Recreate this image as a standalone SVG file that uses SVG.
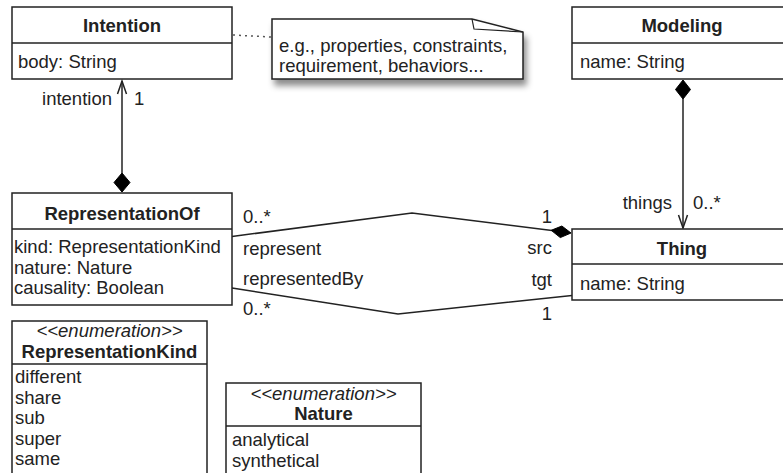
<svg xmlns="http://www.w3.org/2000/svg" width="783" height="473" viewBox="0 0 783 473">
<style>
text{font-family:"Liberation Sans",Arial,Helvetica,sans-serif;font-size:18.5px;fill:#222}
.t{font-weight:bold;text-anchor:middle}
.st{font-style:italic;text-anchor:middle}
.box{fill:#fff;stroke:#222;stroke-width:1.5}
.ln{fill:none;stroke:#222;stroke-width:1.5}
.dia{fill:#000;stroke:#000;stroke-width:1}
.e{text-anchor:end}
</style>
<defs>
<filter id="sh" x="-10%" y="-20%" width="130%" height="160%">
<feDropShadow dx="3" dy="6" stdDeviation="3" flood-color="#000" flood-opacity="0.45"/>
</filter>
</defs>
<g id="connectors">
<line class="ln" x1="233" y1="35" x2="271" y2="37" stroke-dasharray="2,4" style="stroke:#555"/>
<line class="ln" x1="122" y1="173" x2="122" y2="81"/>
<polyline class="ln" points="117.5,94 122,81 126.5,94"/>
<polygon class="dia" points="122,173 130,182.5 122,192 114,182.5"/>
<text x="112" y="105" class="e">intention</text>
<text x="134" y="105">1</text>
<line class="ln" x1="683" y1="99" x2="683" y2="228"/>
<polyline class="ln" points="678.5,215 683,228 687.5,215"/>
<polygon class="dia" points="683,80 690.5,89.5 683,99 675.5,89.5"/>
<text x="672" y="209" class="e">things</text>
<text x="693" y="209">0..*</text>
<polyline class="ln" points="232,236.5 412,213 552,230.5"/>
<polygon class="dia" points="571,233 561.9,226 551.2,230.3 560.3,237.6"/>
<polyline class="ln" points="232,288 398,314 572,295.5"/>
<text x="243" y="223">0..*</text>
<text x="243" y="255">represent</text>
<text x="243" y="285">representedBy</text>
<text x="243" y="315">0..*</text>
<text x="552" y="223" class="e">1</text>
<text x="552" y="254" class="e">src</text>
<text x="552" y="286" class="e">tgt</text>
<text x="552" y="320" class="e">1</text>
</g>
<g id="note">
<path d="M272,19 H472 L523,32 V79 H272 Z" fill="#fff" stroke="#222" stroke-width="1.5" filter="url(#sh)"/>
<path d="M472,19 L474,29 L523,32" fill="none" stroke="#222" stroke-width="1.2"/>
<text x="279" y="51.5">e.g., properties, constraints,</text>
<text x="279" y="71.5">requirement, behaviors...</text>
</g>
<g id="Intention">
<rect class="box" x="12" y="7" width="220" height="72"/>
<line class="ln" x1="12" y1="43" x2="232" y2="43"/>
<text x="122" y="32" class="t">Intention</text>
<text x="18" y="68">body: String</text>
</g>
<g id="Modeling">
<rect class="box" x="572" y="7" width="220" height="72"/>
<line class="ln" x1="572" y1="43" x2="792" y2="43"/>
<text x="682" y="32" class="t">Modeling</text>
<text x="580" y="68">name: String</text>
</g>
<g id="RepresentationOf">
<rect class="box" x="12" y="193" width="220" height="112"/>
<line class="ln" x1="12" y1="229" x2="232" y2="229"/>
<text x="122" y="219.5" class="t">RepresentationOf</text>
<text x="14" y="253">kind: RepresentationKind</text>
<text x="14" y="273.5">nature: Nature</text>
<text x="14" y="294">causality: Boolean</text>
</g>
<g id="Thing">
<rect class="box" x="572" y="229" width="220" height="71"/>
<line class="ln" x1="572" y1="264" x2="792" y2="264"/>
<text x="682" y="255" class="t">Thing</text>
<text x="580" y="290">name: String</text>
</g>
<g id="RepresentationKind">
<rect class="box" x="12" y="321" width="195" height="170"/>
<line class="ln" x1="12" y1="364" x2="207" y2="364"/>
<text x="109.5" y="337" class="st">&lt;&lt;enumeration&gt;&gt;</text>
<text x="109.5" y="358" class="t">RepresentationKind</text>
<text x="15" y="383">different</text>
<text x="15" y="403.5">share</text>
<text x="15" y="424">sub</text>
<text x="15" y="444.5">super</text>
<text x="15" y="465">same</text>
</g>
<g id="Nature">
<rect class="box" x="226" y="383" width="195" height="110"/>
<line class="ln" x1="226" y1="426" x2="421" y2="426"/>
<text x="323.5" y="400" class="st">&lt;&lt;enumeration&gt;&gt;</text>
<text x="323.5" y="420" class="t">Nature</text>
<text x="232" y="446">analytical</text>
<text x="232" y="466.5">synthetical</text>
</g>
</svg>
